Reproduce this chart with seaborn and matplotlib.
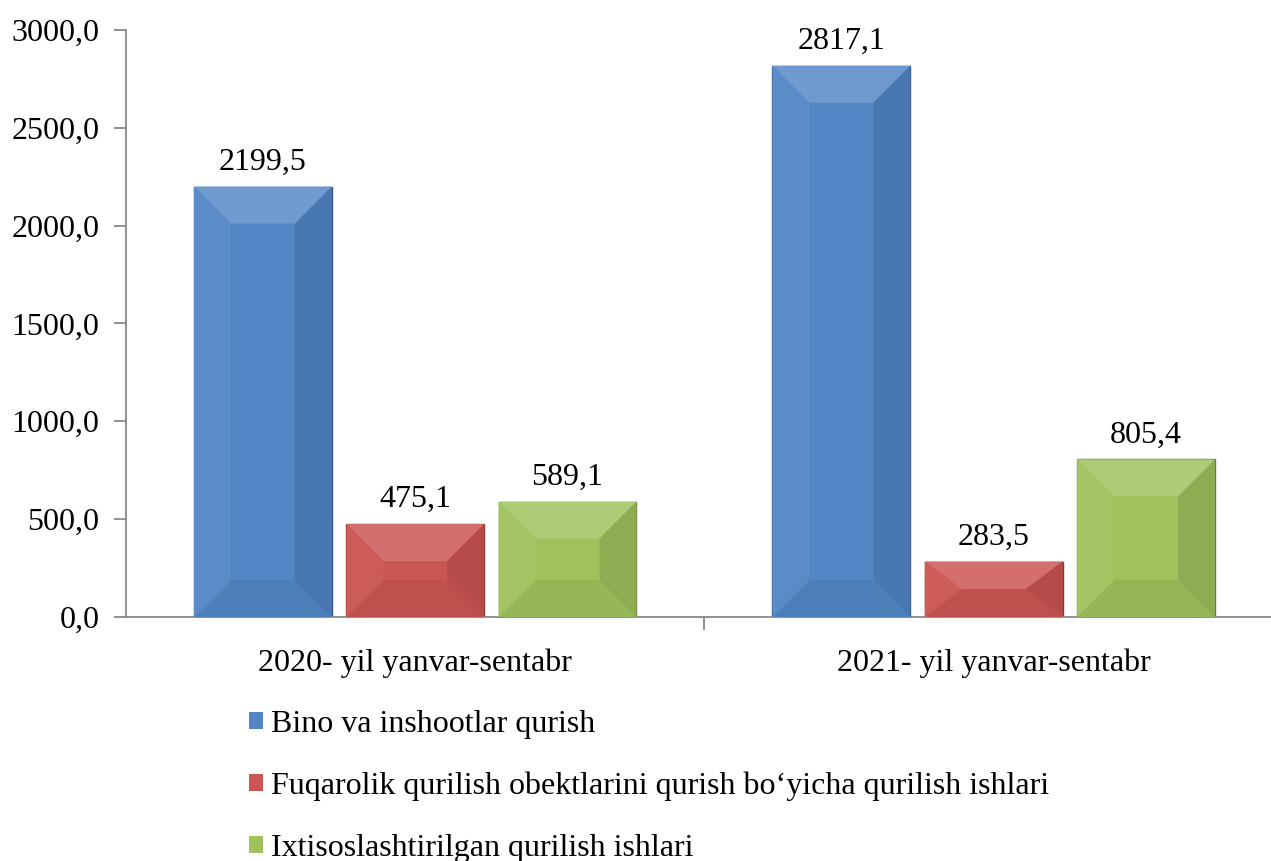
import pandas as pd
import numpy as np
import matplotlib
matplotlib.use("Agg")
import matplotlib.pyplot as plt
from matplotlib.patches import Polygon
from matplotlib.colors import to_rgb
import seaborn as sns

# data
periods = ['2020- yil yanvar-sentabr', '2021- yil yanvar-sentabr']
series = ['Bino va inshootlar qurish',
          'Fuqarolik qurilish obektlarini qurish bo‘yicha qurilish ishlari',
          'Ixtisoslashtirilgan qurilish ishlari']
bino = [2199.5, 2817.1]
fuqarolik = [475.1, 283.5]
ixtisos = [589.1, 805.4]
colors = ['#5287C6', '#CB5552', '#9FC25D']

df = pd.DataFrame({
    'period': periods * 3,
    'series': [s for s in series for _ in periods],
    'value': bino + fuqarolik + ixtisos,
})

sns.set_style('white')
plt.rcParams['font.family'] = ['Liberation Serif', 'DejaVu Serif']
plt.rcParams['text.color'] = 'black'
plt.rcParams['xtick.color'] = 'black'
plt.rcParams['ytick.color'] = 'black'

W, H = 12.71, 8.61
fig = plt.figure(figsize=(W, H), dpi=100)
ax_pos = [0.0991, 0.2834, 0.9103, 0.6818]
ax = fig.add_axes(ax_pos)

sns.barplot(data=df, x='period', y='value', hue='series', order=periods,
            hue_order=series, palette=colors, width=0.79, gap=0.095,
            saturation=1, ax=ax, legend=True, edgecolor='none')

ax.set_ylim(0, 3000)
ax.set_xlim(-0.5, 1.5)

# bevel size in pixels -> data units
px_x = 2.0 / (ax_pos[2] * W * 100)
px_y = 3000.0 / (ax_pos[3] * H * 100)
bev = 37


def shade(c, f):
    r = np.array(to_rgb(c))
    if f > 0:
        return tuple(r + (1 - r) * f)
    return tuple(r * (1 + f))


for cont, col in zip(ax.containers, colors):
    for p in cont:
        x0, y0 = p.get_x(), p.get_y()
        w, h = p.get_width(), p.get_height()
        bx = min(bev * px_x, w / 2)
        by = min(bev * px_y, h / 2)
        x1, y1 = x0 + w, y0 + h
        faces = [
            ([(x0, y1), (x1, y1), (x1 - bx, y1 - by), (x0 + bx, y1 - by)], 0.16),
            ([(x0, y0), (x1, y0), (x1 - bx, y0 + by), (x0 + bx, y0 + by)], -0.06),
            ([(x1, y0), (x1, y1), (x1 - bx, y1 - by), (x1 - bx, y0 + by)], -0.11),
            ([(x0, y0), (x0, y1), (x0 + bx, y1 - by), (x0 + bx, y0 + by)], 0.04),
        ]
        for pts, f in faces:
            ax.add_patch(Polygon(pts, closed=True, facecolor=shade(col, f),
                                 edgecolor='none', zorder=3))
        p.set_edgecolor(shade(col, -0.35))
        p.set_linewidth(1.0)
        p.set_zorder(2)

for cont, vals in zip(ax.containers, [bino, fuqarolik, ixtisos]):
    ax.bar_label(cont, labels=[f'{v:.1f}'.replace('.', ',') for v in vals],
                 padding=7, fontsize=23, color='black')

ax.set_yticks(np.arange(0, 3001, 500))
ax.set_yticklabels([f'{v:.1f}'.replace('.', ',') for v in np.arange(0, 3001, 500)])
ax.set_xlabel('')
ax.set_ylabel('')

for s in ['top', 'right']:
    ax.spines[s].set_visible(False)
for s in ['left', 'bottom']:
    ax.spines[s].set_color('#888888')
    ax.spines[s].set_linewidth(1.3)

ax.tick_params(axis='y', direction='out', length=9, width=1.3, color='#888888',
               labelsize=23, pad=10, left=True, labelcolor='black')
ax.tick_params(axis='x', which='major', length=0, labelsize=23, pad=23,
               labelcolor='black')
ax.set_xticks([0.5], minor=True)
ax.tick_params(axis='x', which='minor', direction='out', length=9, width=1.3,
               color='#888888', bottom=True)

handles, labels = ax.get_legend_handles_labels()
ax.get_legend().remove()
fig.legend(handles, labels, loc='upper left', bbox_to_anchor=(0.196, 0.1755),
           frameon=False, fontsize=23, ncol=1, handlelength=0.44,
           handleheight=0.44, handletextpad=0.25, labelspacing=1.03,
           borderaxespad=0, borderpad=0)

fig.savefig('out.png', dpi=100)
